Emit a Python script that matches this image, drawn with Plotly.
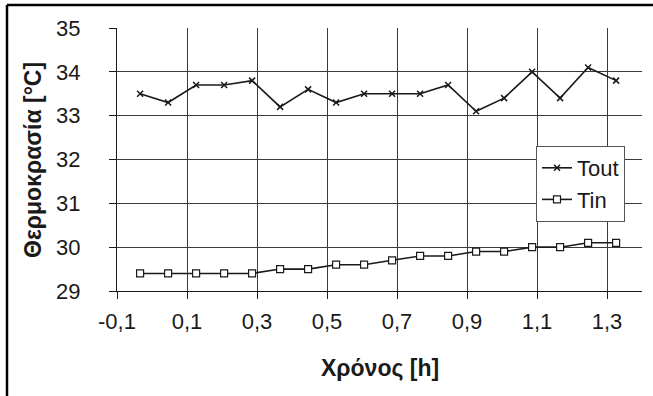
import plotly.graph_objects as go

time_h = [-0.034 + 0.08 * i for i in range(18)]
tout = [33.5, 33.3, 33.7, 33.7, 33.8, 33.2, 33.6, 33.3, 33.5, 33.5,
        33.5, 33.7, 33.1, 33.4, 34.0, 33.4, 34.1, 33.8]
tin = [29.4, 29.4, 29.4, 29.4, 29.4, 29.5, 29.5, 29.6, 29.6, 29.7,
       29.8, 29.8, 29.9, 29.9, 30.0, 30.0, 30.1, 30.1]
x_tickvals = [-0.1, 0.1, 0.3, 0.5, 0.7, 0.9, 1.1, 1.3]
x_ticktext = ["-0,1", "0,1", "0,3", "0,5", "0,7", "0,9", "1,1", "1,3"]
y_tickvals = [29, 30, 31, 32, 33, 34, 35]

FONT = "Liberation Sans, Arial, sans-serif"
W, H = 653, 396
L, R, T, B = 117, 11, 28, 105
pw, ph = W - L - R, H - T - B

fig = go.Figure()
fig.add_trace(go.Scatter(
    x=time_h, y=tout, name="Tout", mode="lines+markers",
    line=dict(color="#1a1a1a", width=1.6),
    marker=dict(symbol="x-thin", size=6, line=dict(color="#1a1a1a", width=1.5)),
))
fig.add_trace(go.Scatter(
    x=time_h, y=tin, name="Tin", mode="lines+markers",
    line=dict(color="#1a1a1a", width=1.6),
    marker=dict(symbol="square", size=7, color="white", line=dict(color="#1a1a1a", width=1.2)),
))

def px_x(x):
    return (x - L) / pw

def px_y(y):
    return (H - B - y) / ph

fig.update_layout(
    width=W, height=H,
    margin=dict(l=L, r=R, t=T, b=B),
    paper_bgcolor="white", plot_bgcolor="white",
    font=dict(family=FONT, color="#1a1a1a", size=22),
    showlegend=True,
    legend=dict(
        x=px_x(536), y=px_y(146), xanchor="left", yanchor="top",
        bgcolor="white", bordercolor="#555555", borderwidth=1,
        font=dict(family=FONT, size=22, color="#1a1a1a"),
        itemwidth=30, tracegroupgap=0,
    ),
    xaxis=dict(
        range=[-0.1, 1.4], tickvals=x_tickvals, ticktext=x_ticktext,
        showgrid=True, gridcolor="#3a3a3a", gridwidth=1,
        showline=True, linecolor="#1a1a1a", linewidth=1,
        ticks="outside", ticklen=7, tickcolor="#1a1a1a",
        tickfont=dict(family=FONT, size=22, color="#1a1a1a"),
        ticklabelstandoff=4, zeroline=False,
    ),
    yaxis=dict(
        range=[29, 35], tickvals=y_tickvals,
        showgrid=True, gridcolor="#3a3a3a", gridwidth=1,
        showline=True, linecolor="#1a1a1a", linewidth=1,
        ticks="outside", ticklen=7, tickcolor="#1a1a1a",
        tickfont=dict(family=FONT, size=22, color="#1a1a1a"),
        ticklabelstandoff=24, zeroline=False,
    ),
    annotations=[
        dict(text="<b>Θερμοκρασία [°C]</b>", xref="paper", yref="paper",
             x=px_x(33), y=px_y(160), textangle=-90, showarrow=False,
             xanchor="center", yanchor="middle",
             font=dict(family=FONT, size=23, color="#1a1a1a")),
        dict(text="<b>Χρόνος [h]</b>", xref="paper", yref="paper",
             x=px_x(380), y=px_y(368), showarrow=False,
             xanchor="center", yanchor="middle",
             font=dict(family=FONT, size=23, color="#1a1a1a")),
    ],
    shapes=[
        dict(type="line", xref="paper", yref="paper",
             x0=px_x(7), x1=px_x(7), y0=px_y(5), y1=px_y(420),
             line=dict(color="black", width=2.5)),
        dict(type="line", xref="paper", yref="paper",
             x0=px_x(7), x1=px_x(700), y0=px_y(5), y1=px_y(5),
             line=dict(color="black", width=2.5)),
    ],
)

fig.write_html("out.html", config={"displayModeBar": False},
               post_script="document.body.style.margin='0';")
